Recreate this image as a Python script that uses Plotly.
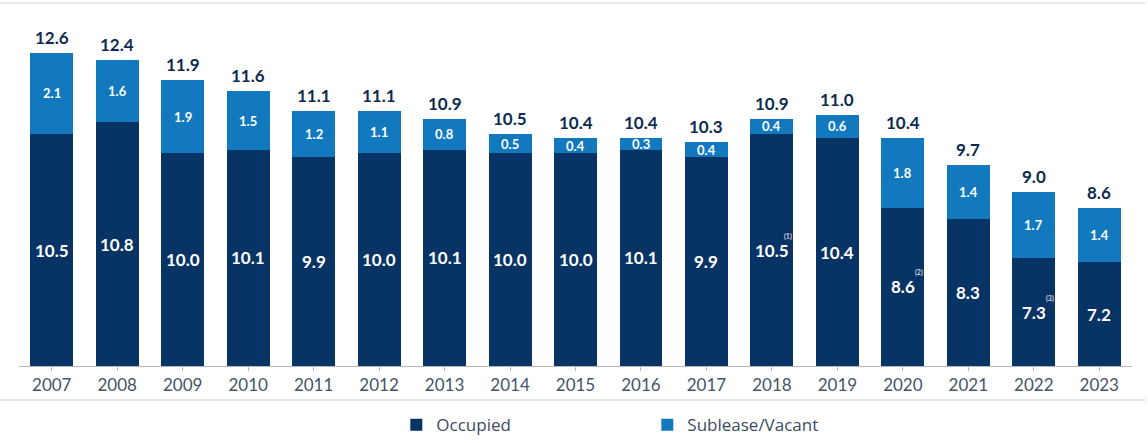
import plotly.graph_objects as go

# Office space (millions of sq ft) by year
years = ["2007", "2008", "2009", "2010", "2011", "2012", "2013", "2014", "2015",
         "2016", "2017", "2018", "2019", "2020", "2021", "2022", "2023"]
occupied = [10.5, 10.8, 10.0, 10.1, 9.9, 10.0, 10.1, 10.0, 10.0,
            10.1, 9.9, 10.5, 10.4, 8.6, 8.3, 7.3, 7.2]
sublease_vacant = [2.1, 1.6, 1.9, 1.5, 1.2, 1.1, 0.8, 0.5, 0.4,
                   0.3, 0.4, 0.4, 0.6, 1.8, 1.4, 1.7, 1.4]
totals = [12.6, 12.4, 11.9, 11.6, 11.1, 11.1, 10.9, 10.5, 10.4,
          10.4, 10.3, 10.9, 11.0, 10.4, 9.7, 9.0, 8.6]
footnotes = {"2018": "(1)", "2020": "(2)", "2022": "(3)"}

NAVY = "#073465"
BLUE = "#1279bf"
FONT = "Lato"

Y_MIN, Y_MAX = 4.516, 13.445

fig = go.Figure()
fig.add_trace(go.Bar(x=years, y=occupied, name="Occupied",
                     marker=dict(color=NAVY, line=dict(width=0))))
fig.add_trace(go.Bar(x=years, y=sublease_vacant, name="Sublease/Vacant",
                     marker=dict(color=BLUE, line=dict(width=0))))

ann = []
for i, (yr, occ, sub, tot) in enumerate(zip(years, occupied, sublease_vacant, totals)):
    # occupied value, centred in the visible part of the bar
    occ_mid = (Y_MIN + occ) / 2
    ann.append(dict(x=i, y=occ_mid, text=f"<b>{occ:.1f}</b>", showarrow=False,
                    font=dict(family=FONT, size=17, color="white")))
    # sublease/vacant value, centred in its segment
    ann.append(dict(x=i, y=occ + sub / 2, text=f"<b>{sub:.1f}</b>", showarrow=False,
                    font=dict(family=FONT, size=13, color="white")))
    # stack total above the bar
    ann.append(dict(x=i, y=tot, text=f"<b>{tot:.1f}</b>", showarrow=False,
                    yanchor="bottom", yshift=3,
                    font=dict(family=FONT, size=17, color="#0d2a4f")))
    if yr in footnotes:
        ann.append(dict(x=i, y=occ_mid, text=footnotes[yr], showarrow=False,
                        xshift=16, yshift=14,
                        font=dict(family=FONT, size=7, color="white")))

fig.update_layout(
    width=1148, height=443,
    margin=dict(l=19, r=16, t=20, b=77, autoexpand=False),
    barmode="stack", bargap=0.344,
    plot_bgcolor="white", paper_bgcolor="white",
    annotations=ann,
    xaxis=dict(type="category", range=[-0.5, len(years) - 0.5],
               showline=True, linecolor="#b4b8bd", linewidth=1,
               ticks="outside", ticklen=4, tickcolor="#b4b8bd",
               tickfont=dict(family=FONT, size=17, color="#44546a"),
               showgrid=False, zeroline=False, fixedrange=True, automargin=False),
    yaxis=dict(range=[Y_MIN, Y_MAX], visible=False, showgrid=False, fixedrange=True),
    legend=dict(orientation="h", x=0.339, xanchor="left", y=-0.119, yanchor="top",
                entrywidth=206, entrywidthmode="pixels", itemwidth=30,
                font=dict(family="Open Sans", size=17, color="#3b4a5f"),
                traceorder="normal"),
    shapes=[
        dict(type="line", xref="paper", yref="paper", x0=-0.017, x1=1.012,
             y0=1.049, y1=1.049, line=dict(color="#e8e8e8", width=2)),
        dict(type="line", xref="paper", yref="paper", x0=-0.017, x1=1.012,
             y0=-0.098, y1=-0.098, line=dict(color="#e8e8e8", width=2)),
    ],
)

fig.write_html("out.html")
